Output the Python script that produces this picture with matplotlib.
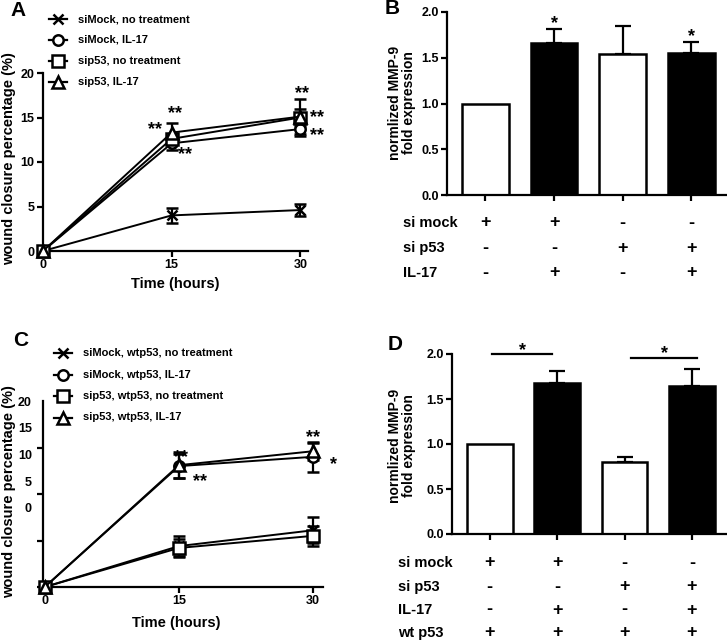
import numpy as np
import matplotlib
matplotlib.use("Agg")
import matplotlib.pyplot as plt
from matplotlib import transforms
from matplotlib.lines import Line2D

plt.rcParams['font.family'] = ['Liberation Sans', 'DejaVu Sans']
plt.rcParams['font.weight'] = 'bold'

W, H = 727, 644

# ---- data, panel A (wound closure, %) ----
time_h = [0, 15, 30]
a_names = ["siMock, no treatment", "siMock, IL-17", "sip53, no treatment", "sip53, IL-17"]
a_mean = [[0, 4.0, 4.6], [0, 12.1, 13.7], [0, 12.6, 15.0], [0, 13.3, 15.1]]
a_err = [[0, 0.8, 0.7], [0, 0.7, 0.8], [0, 0.5, 1.0], [0, 1.1, 2.0]]

# ---- data, panel C ----
c_names = ["siMock, wtp53, no treatment", "siMock, wtp53, IL-17",
           "sip53, wtp53, no treatment", "sip53, wtp53, IL-17"]
c_mean = [[0, 4.4, 6.1], [0, 13.0, 14.0], [0, 4.2, 5.5], [0, 13.1, 14.6]]
c_err = [[0, 1.1, 1.4], [0, 1.3, 1.6], [0, 1.0, 1.1], [0, 1.4, 0.9]]
c_ytick_labels = ['20', '15', '10', '5', '0']
c_ytick_label_pos = [20, 17.1, 14.3, 11.3, 8.5]

# ---- data, panels B and D (normalized MMP-9) ----
b_vals = [1.0, 1.66, 1.54, 1.55]
b_err = [0, 0.15, 0.31, 0.12]
d_vals = [1.0, 1.68, 0.80, 1.65]
d_err = [0, 0.13, 0.06, 0.18]
bar_fill = ['white', 'black', 'white', 'black']
b_rows = ["si mock", "si p53", "IL-17"]
b_table = [['+', '+', '-', '-'], ['-', '-', '+', '+'], ['-', '+', '-', '+']]
d_rows = ["si mock", "si p53", "IL-17", "wt p53"]
d_table = [['+', '+', '-', '-'], ['-', '-', '+', '+'], ['-', '+', '-', '+'], ['+', '+', '+', '+']]

markers = ['x', 'o', 's', '^']
msizes = [7, 7.5, 8, 8]


def px_axes(l, r, t, b):
    return fig.add_axes([l / W, 1 - b / H, (r - l) / W, (b - t) / H])


def fy(p):
    return 1 - p / H


def fx(p):
    return p / W


def style(ax):
    for s in ['top', 'right']:
        ax.spines[s].set_visible(False)
    for s in ['left', 'bottom']:
        ax.spines[s].set_linewidth(1.6)
    ax.tick_params(direction='out', length=4, width=1.6, labelsize=9, pad=2)


fig = plt.figure(figsize=(W / 100, H / 100), dpi=100)


def line_panel(ax, means, errs, names, leg_x, leg_y, leg_gap):
    for m, e, mk, sz in zip(means, errs, markers, msizes):
        ax.errorbar(time_h, m, yerr=e, color='black', lw=1.4, marker=mk, ms=sz,
                    mfc='white', mec='black', mew=1.8, capsize=4.5, capthick=1.6,
                    elinewidth=1.6, clip_on=False, zorder=3)
    for i, n in enumerate(names):
        y = fy(leg_y + i * leg_gap)
        fig.add_artist(Line2D([fx(leg_x - 9), fx(leg_x + 9)], [y, y], color='black', lw=1.6))
        fig.add_artist(Line2D([fx(leg_x)], [y], color='black', marker=markers[i], ms=msizes[i],
                              mfc='white', mec='black', mew=1.8))
        fig.text(fx(leg_x + 20), y, n, fontsize=8, va='center', ha='left')


def stars(ax, items):
    for x, y, s in items:
        ax.text(x, y, s, fontsize=13, ha='center', va='center', clip_on=False)


# ---------------- panel A ----------------
axA = px_axes(43, 308, 73, 251)
style(axA)
line_panel(axA, a_mean, a_err, a_names, 58, 19, 21)
axA.set_xlim(0, 30.9)
axA.set_ylim(0, 20)
axA.set_xticks(time_h)
axA.set_yticks([0, 5, 10, 15, 20])
stars(axA, [(13.1, 13.6, '**'), (15.4, 15.4, '**'), (16.6, 10.8, '**'),
            (30.2, 17.7, '**'), (32.0, 15.0, '**'), (32.0, 13.0, '**')])
fig.text(fx(175), fy(284), "Time (hours)", fontsize=10.5, ha='center', va='center')
fig.text(fx(9), fy(159), "wound closure percentage (%)", fontsize=10.5, rotation=90,
         ha='center', va='center')
fig.text(fx(10), fy(10), "A", fontsize=15, ha='left', va='center')

# ---------------- panel C ----------------
axC = px_axes(43, 323, 401, 587)
style(axC)
line_panel(axC, c_mean, c_err, c_names, 63, 353, 21.5)
axC.set_xlim(-0.2, 31.1)
axC.set_ylim(0, 20)
axC.set_xticks(time_h)
axC.set_yticks(c_ytick_label_pos)
axC.set_yticklabels(c_ytick_labels)
axC.tick_params(axis='y', which='major', length=0, pad=8)
axC.set_yticks([0, 5, 10, 15, 20], minor=True)
axC.tick_params(axis='y', which='minor', direction='out', length=4, width=1.6)
stars(axC, [(15.2, 13.9, '**'), (17.3, 11.3, '**'), (30.0, 16.1, '**'), (32.3, 13.2, '*')])
fig.text(fx(176), fy(623), "Time (hours)", fontsize=10.5, ha='center', va='center')
fig.text(fx(9), fy(492), "wound closure percentage (%)", fontsize=10.5, rotation=90,
         ha='center', va='center')
fig.text(fx(13), fy(340), "C", fontsize=15, ha='left', va='center')


# ---------------- bar panels ----------------
def bar_panel(ax, vals, errs, rows, table, row_y, label_x):
    style(ax)
    xs = np.arange(len(vals))
    ax.bar(xs, vals, width=0.68, color=bar_fill, edgecolor='black', linewidth=1.8, zorder=2)
    for x, v, e in zip(xs, vals, errs):
        if e > 0:
            ax.errorbar([x], [v], yerr=[[0], [e]], color='black', elinewidth=1.6,
                        capsize=5.5, capthick=1.6, fmt='none', zorder=1)
    ax.set_xlim(-0.56, 3.52)
    ax.set_ylim(0, 2.0)
    ax.set_yticks([0, 0.5, 1.0, 1.5, 2.0])
    ax.set_yticklabels(['0.0', '0.5', '1.0', '1.5', '2.0'])
    ax.set_xticks(xs)
    ax.set_xticklabels([])
    tr = transforms.blended_transform_factory(ax.transData, fig.transFigure)
    for r, (name, signs) in enumerate(zip(rows, table)):
        y = fy(row_y[r])
        fig.text(fx(label_x), y, name, fontsize=10.5, ha='left', va='center')
        for x, s in zip(xs, signs):
            ax.text(x, y, s, transform=tr, fontsize=13, ha='center', va='center')
    return xs


axB = px_axes(447, 727, 12, 195)
bar_panel(axB, b_vals, b_err, b_rows, b_table, [223, 248, 273], 403)
axB.text(1, 1.87, '*', fontsize=13, ha='center', va='center')
axB.text(3, 1.73, '*', fontsize=13, ha='center', va='center')
fig.text(fx(402), fy(103), "normlized MMP-9\nfold expression", fontsize=10, rotation=90,
         ha='center', va='center', multialignment='center', linespacing=1.0)
fig.text(fx(385), fy(9), "B", fontsize=15, ha='left', va='center')

axD = px_axes(452, 727, 354, 534)
bar_panel(axD, d_vals, d_err, d_rows, d_table, [563, 587, 610, 633], 398)
axD.plot([0.03, 0.93], [2.0, 2.0], color='black', lw=1.6, clip_on=False)
axD.text(0.48, 2.04, '*', fontsize=13, ha='center', va='center', clip_on=False)
axD.plot([2.1, 3.07], [1.96, 1.96], color='black', lw=1.6, clip_on=False)
axD.text(2.6, 2.0, '*', fontsize=13, ha='center', va='center', clip_on=False)
fig.text(fx(402), fy(446), "normlized MMP-9\nfold expression", fontsize=10, rotation=90,
         ha='center', va='center', multialignment='center', linespacing=1.0)
fig.text(fx(388), fy(345), "D", fontsize=15, ha='left', va='center')

fig.savefig("out.png", dpi=100)
